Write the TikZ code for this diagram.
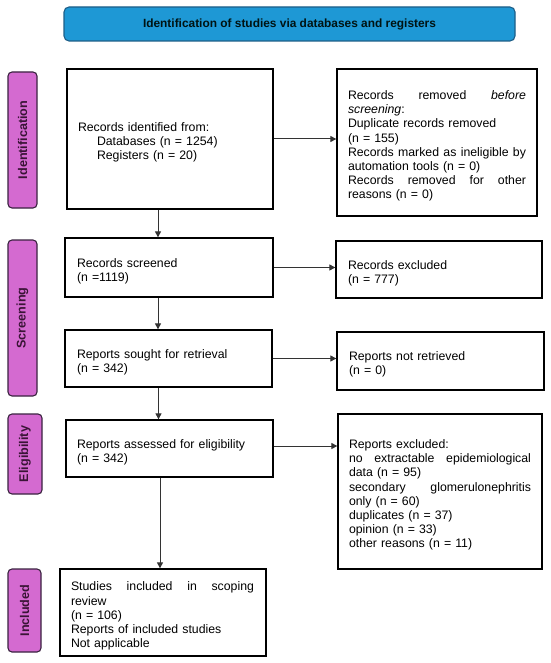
\documentclass[tikz,border=0pt]{standalone}
\usepackage{fontspec}
\setmainfont{Liberation Sans}
\usetikzlibrary{arrows.meta,calc}
\definecolor{hdrblue}{HTML}{1E98D5}
\definecolor{hdrline}{HTML}{1D5E88}
\definecolor{lblpink}{HTML}{D46AD0}
\definecolor{lblline}{HTML}{3A2340}
\definecolor{lbltext}{HTML}{3A1436}
\definecolor{arrowcol}{HTML}{333333}
\newcommand{\spr}[2]{\leavevmode\hbox to #1{#2}}
\begin{document}
\begin{tikzpicture}[x=1pt,y=-1pt,
  every node/.style={font=\fontsize{12.3}{14.2}\selectfont},
  flowbox/.style={draw=black, line width=1.3pt, fill=white, align=left, inner ysep=2pt,
    execute at begin node={\leavevmode\rule{0pt}{16pt}}},
  phase/.style={draw=lblline, line width=1.1pt, fill=lblpink, rounded corners=4pt,
    rotate=90, inner sep=0pt, text=lbltext, font=\fontsize{12.6}{14}\selectfont\bfseries},
  arr/.style={draw=arrowcol, line width=1pt, -{Triangle[length=6pt,width=6pt]}}
]
\useasboundingbox (0,0) rectangle (550,663);
\fill[white] (0,0) rectangle (550,663);
% header
\node[draw=hdrline, line width=1.1pt, fill=hdrblue, rounded corners=5pt,
  minimum width=451pt, minimum height=34pt, inner sep=0pt,
  text={black!85!teal}, font=\fontsize{11.9}{14}\selectfont\bfseries] (hdr) at (289.5,24)
  {Identification of studies via databases and registers};
% phase labels
\node[phase, minimum width=136pt, minimum height=29pt] (idl) at (22.5,140) {Identification};
\node[phase, minimum width=156pt, minimum height=29pt] (scl) at (22.5,318) {Screening};
\node[phase, minimum width=80pt, minimum height=34pt] (ell) at (25,454) {Eligibility};
\node[phase, minimum width=83pt, minimum height=33pt] (inl) at (24.5,610.5) {Included};
% left boxes
\node[flowbox, minimum width=206pt, minimum height=140pt, inner xsep=11pt, text width=184pt] (b1) at (170,139)
  {Records identified from:\\
   \hspace*{19pt}Databases (n = 1254)\\
   \hspace*{19pt}Registers (n = 20)};
\node[flowbox, minimum width=208pt, minimum height=59pt, inner xsep=12pt, text width=184pt] (b2) at (169,267.5)
  {Records screened\\ (n =1119)};
\node[flowbox, minimum width=207pt, minimum height=57pt, inner xsep=12pt, text width=183pt] (b3) at (168.5,358.5)
  {Reports sought for retrieval\\ (n = 342)};
\node[flowbox, minimum width=207pt, minimum height=57pt, inner xsep=11pt, text width=185pt] (b4) at (169.5,448.5)
  {Reports assessed for eligibility\\ (n = 342)};
\node[flowbox, minimum width=206pt, minimum height=87pt, inner xsep=11pt, text width=184pt] (b5) at (163,612.5)
  {\spr{183pt}{Studies\hfill included\hfill in\hfill scoping}\\
   review\\
   (n = 106)\\
   Reports of included studies\\
   Not applicable};
% right boxes
\node[flowbox, minimum width=200pt, minimum height=147pt, inner xsep=11pt, text width=178pt] (rm) at (437,142.5)
  {\spr{178pt}{Records\hfill removed\hfill \textit{before}}\\
   \textit{screening}:\\
   Duplicate records removed\\
   (n = 155)\\
   \spr{178pt}{Records\hfill marked\hfill as\hfill ineligible\hfill by}\\
   automation tools (n = 0)\\
   \spr{178pt}{Records\hfill removed\hfill for\hfill other}\\
   reasons (n = 0)};
\node[flowbox, minimum width=206pt, minimum height=57pt, inner xsep=12pt, text width=182pt] (ex) at (439,269.5)
  {Records excluded\\ (n = 777)};
\node[flowbox, minimum width=207pt, minimum height=58pt, inner xsep=12pt, text width=183pt] (nr) at (440.5,361)
  {Reports not retrieved\\ (n = 0)};
\node[flowbox, minimum width=204pt, minimum height=155pt, inner xsep=11pt, text width=182pt] (rex) at (440,491.5)
  {Reports excluded:\\
   \spr{182pt}{no\hfill extractable\hfill epidemiological}\\
   data (n = 95)\\
   \spr{182pt}{secondary\hfill glomerulonephritis}\\
   only (n = 60)\\
   duplicates (n = 37)\\
   opinion (n = 33)\\
   other reasons (n = 11)};
% connectors
\draw[arr] (b1.east) -- (b1.east -| rm.west);
\draw[arr] ([xshift=-12pt]b1.south) -- ([xshift=-12pt]b1.south |- b2.north);
\draw[arr] (b2.east) -- (b2.east -| ex.west);
\draw[arr] ([xshift=-11pt]b2.south) -- ([xshift=-11pt]b2.south |- b3.north);
\draw[arr] (b3.east) -- (b3.east -| nr.west);
\draw[arr] ([xshift=-10pt]b3.south) -- ([xshift=-10pt]b3.south |- b4.north);
\draw[arr] ([yshift=2.5pt]b4.east) -- ([yshift=2.5pt]b4.east -| rex.west);
\draw[arr] ([xshift=-9.5pt]b4.south) -- ([xshift=-9.5pt]b4.south |- b5.north);
\end{tikzpicture}
\end{document}
